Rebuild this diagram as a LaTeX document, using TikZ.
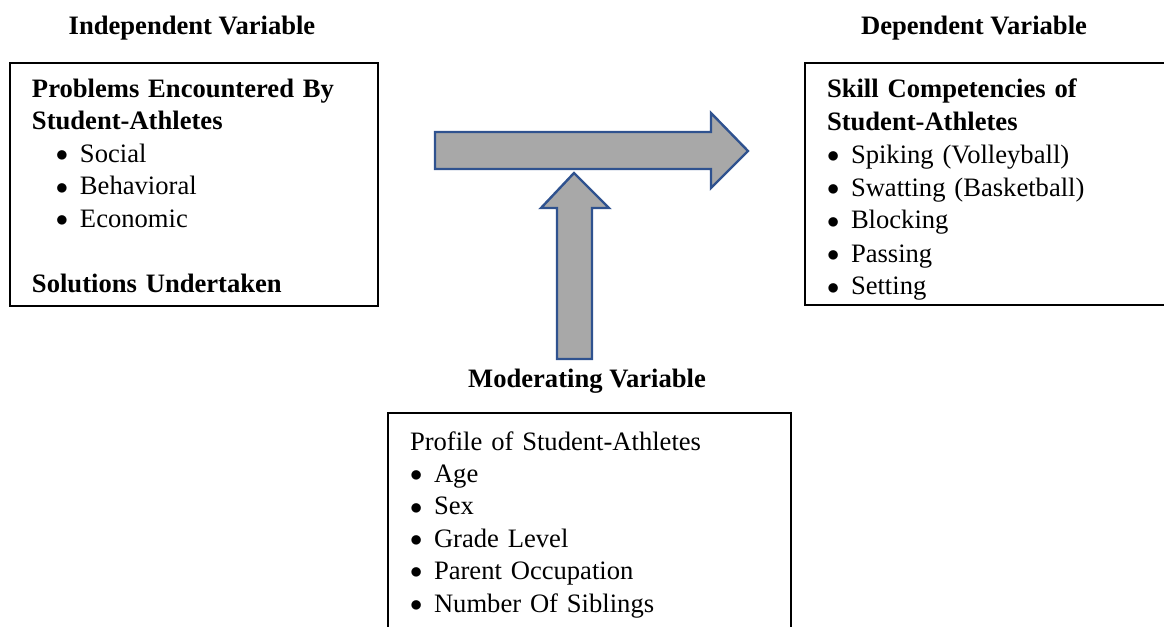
\documentclass[tikz,border=0pt]{standalone}
\usepackage{fontspec}
\setmainfont{Liberation Serif}
\usetikzlibrary{positioning}

\definecolor{arrowfill}{HTML}{A8A8A8}
\definecolor{arrowline}{HTML}{2F528F}

\tikzset{
  varbox/.style={draw=black, line width=1pt, anchor=north west, align=left,
    inner xsep=11pt, inner ysep=2pt, outer sep=0pt,
    font=\fontsize{13.3}{16.3}\selectfont},
  vartitle/.style={anchor=base, font=\fontsize{13.3}{16.3}\selectfont\bfseries},
  blockarrow/.style={fill=arrowfill, draw=arrowline, line width=1.2pt, line join=miter},
}
\newcommand{\itm}[1]{\makebox[12pt][l]{\raisebox{0.4pt}{\scalebox{0.85}{$\bullet$}}}#1}

\begin{document}
\begin{tikzpicture}[x=0.5pt,y=-0.5pt]
	\useasboundingbox (0,0) rectangle (1164,627);
	% headings
	\node[vartitle] (indeptitle) at (192,34) {Independent Variable};
	\node[vartitle] (deptitle) at (974,34) {Dependent Variable};
	\node[vartitle] (modtitle) at (587,387) {Moderating Variable};
	% variable boxes
	\node[varbox, text width=162pt] (indep) at (10,63)
		{\rule{0pt}{15pt}\textbf{Problems Encountered By}\\
		 \textbf{Student-Athletes}\\
		 \hspace*{12pt}\itm{Social}\\
		 \hspace*{12pt}\itm{Behavioral}\\
		 \hspace*{12pt}\itm{Economic}\\[16.3pt]
		 \textbf{Solutions Undertaken}\rule[-4.7pt]{0pt}{0pt}};
	\node[varbox, text width=200pt, font=\fontsize{13.3}{16.5}\selectfont] (dep) at (805,63)
		{\rule{0pt}{15pt}\textbf{Skill Competencies of}\\
		 \textbf{Student-Athletes}\\
		 \itm{Spiking (Volleyball)}\\
		 \itm{Swatting (Basketball)}\\
		 \itm{Blocking}\\
		 \itm{Passing}\\
		 \itm{Setting}\rule[-2.6pt]{0pt}{0pt}};
	\node[varbox, text width=179.5pt,
		font=\fontsize{13.3}{16.2}\selectfont] (mod) at (388,413)
		{\rule{0pt}{16.5pt}Profile of Student-Athletes\\
		 \itm{Age}\\
		 \itm{Sex}\\
		 \itm{Grade Level}\\
		 \itm{Parent Occupation}\\
		 \itm{Number Of Siblings}\rule[-20pt]{0pt}{0pt}};
	% block arrows
	\draw[blockarrow] (435,132) -- (711,132) -- (711,113) -- (748,151)
		-- (711,188) -- (711,169) -- (435,169) -- cycle;
	\draw[blockarrow] (574,173) -- (609,208) -- (592,208) -- (592,359)
		-- (557,359) -- (557,208) -- (541,208) -- cycle;
\end{tikzpicture}
\end{document}
